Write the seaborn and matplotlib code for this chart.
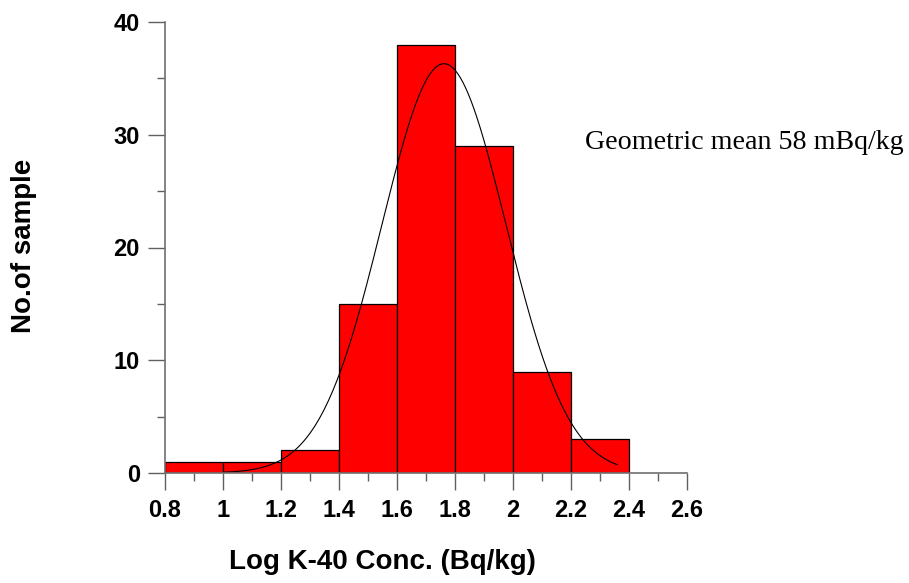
import numpy as np
import pandas as pd
import seaborn as sns
import matplotlib
matplotlib.use("Agg")
import matplotlib.pyplot as plt
from matplotlib.ticker import MultipleLocator, FixedLocator

# Data
bin_edges = [0.8, 1.0, 1.2, 1.4, 1.6, 1.8, 2.0, 2.2, 2.4]
counts = [1, 1, 2, 15, 38, 29, 9, 3]
# fitted normal curve parameters (log scale)
fit_mean = 1.762
fit_sd = 0.214
fit_peak = 36.3
fit_range = (1.0, 2.36)
x_ticks = [0.8, 1.0, 1.2, 1.4, 1.6, 1.8, 2.0, 2.2, 2.4, 2.6]
x_tick_labels = ["0.8", "1", "1.2", "1.4", "1.6", "1.8", "2", "2.2", "2.4", "2.6"]
y_ticks = [0, 10, 20, 30, 40]

sns.set_style("white")
plt.rcParams['font.family'] = ['Liberation Sans', 'DejaVu Sans']
plt.rcParams['text.color'] = 'black'
plt.rcParams['axes.labelcolor'] = 'black'
plt.rcParams['xtick.labelcolor'] = 'black'
plt.rcParams['ytick.labelcolor'] = 'black'

fig = plt.figure(figsize=(9.09, 5.83), dpi=100)
ax = fig.add_axes([165/909, 110/583, (687-165)/909, (473-22)/583])

centers = [(a + b) / 2 for a, b in zip(bin_edges[:-1], bin_edges[1:])]
df = pd.DataFrame({"x": centers, "n": counts})
sns.histplot(data=df, x="x", weights="n", bins=bin_edges, ax=ax,
             color="#ff0000", alpha=1, edgecolor="black", linewidth=0.9)

xs = np.linspace(fit_range[0], fit_range[1], 300)
ys = fit_peak * np.exp(-0.5 * ((xs - fit_mean) / fit_sd) ** 2)
sns.lineplot(x=xs, y=ys, ax=ax, color="black", linewidth=0.8)

ax.set_xlim(0.8, 2.6)
ax.set_ylim(0, 40)
ax.xaxis.set_major_locator(FixedLocator(x_ticks))
ax.set_xticklabels(x_tick_labels)
ax.xaxis.set_minor_locator(MultipleLocator(0.1))
ax.yaxis.set_major_locator(FixedLocator(y_ticks))
ax.yaxis.set_minor_locator(MultipleLocator(5))

for s in ["top", "right"]:
    ax.spines[s].set_visible(False)
for s in ["left", "bottom"]:
    ax.spines[s].set_color("#707070")
    ax.spines[s].set_linewidth(1.2)

ax.tick_params(axis="both", which="major", direction="out", length=12, width=1,
               color="#606060", labelsize=17, pad=6)
ax.tick_params(axis="both", which="minor", direction="out", length=6, width=1,
               color="#606060")
ax.tick_params(axis="x", which="major", pad=7)
ax.tick_params(left=True, bottom=True, which="both")
for lab in ax.get_xticklabels() + ax.get_yticklabels():
    lab.set_fontweight("bold")

ax.set_xlabel("Log K-40 Conc. (Bq/kg)", fontsize=20, fontweight="bold", va="center")
ax.xaxis.set_label_coords(382/909, 1 - 562/583, transform=fig.transFigure)
ax.set_ylabel("No.of sample", fontsize=20, fontweight="bold", va="center", ha="center")
ax.yaxis.set_label_coords(24/909, 1 - 246/583, transform=fig.transFigure)

fig.text(585/909, 1 - 143/583, "Geometric mean 58 mBq/kg", fontsize=20.2,
         family=["Liberation Serif", "DejaVu Serif"], ha="left", va="center")

fig.savefig("out.png", dpi=100)
